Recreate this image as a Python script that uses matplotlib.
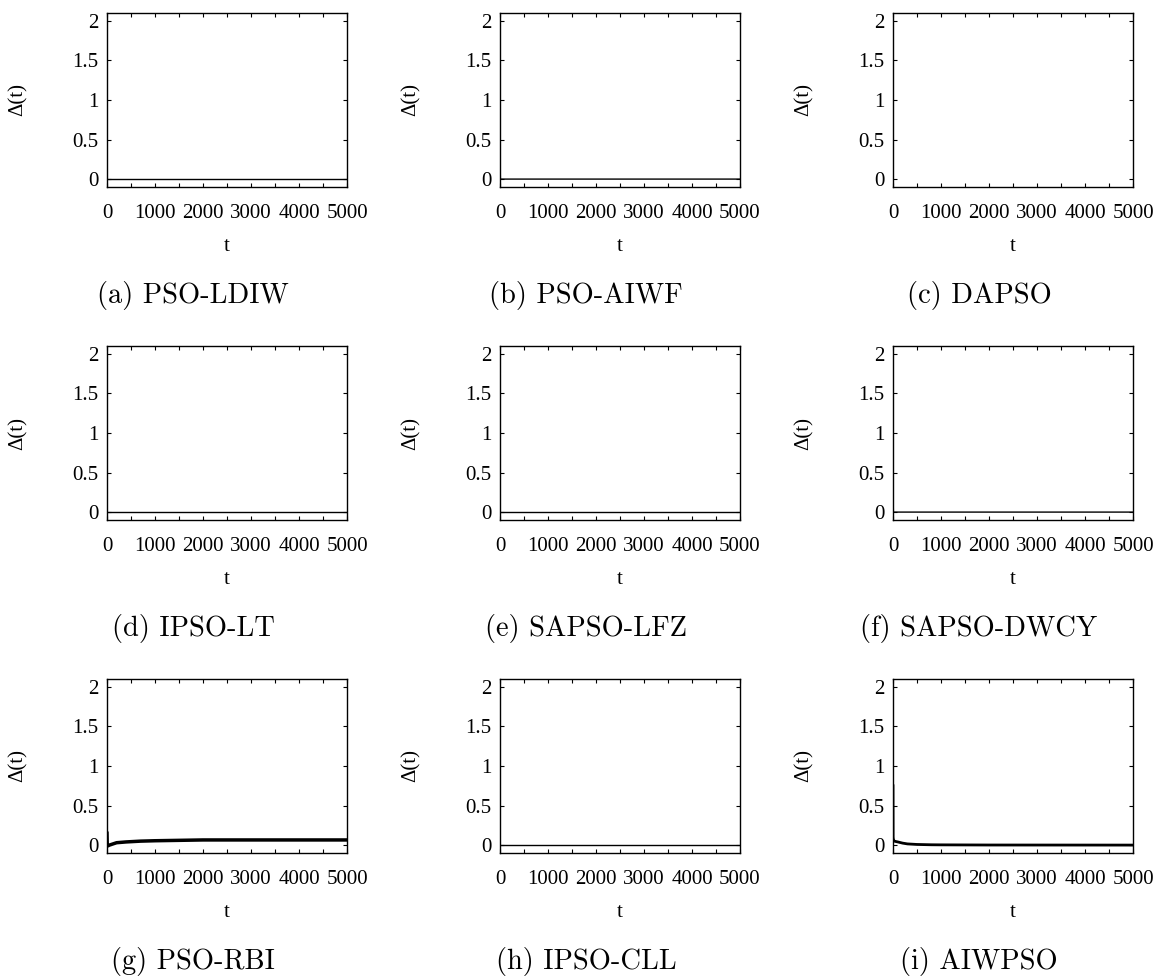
import matplotlib
matplotlib.use("Agg")
import matplotlib.pyplot as plt
from matplotlib.ticker import MultipleLocator

# Δ(t) traces for each variant (t, value) -- flat ones sit on zero
names = ["PSO-LDIW", "PSO-AIWF", "DAPSO",
         "IPSO-LT", "SAPSO-LFZ", "SAPSO-DWCY",
         "PSO-RBI", "IPSO-CLL", "AIWPSO"]
letters = ["a", "b", "c", "d", "e", "f", "g", "h", "i"]

t_ldiw = [0, 5000]
d_ldiw = [0.0, 0.0]
t_aiwf = [0, 8, 5000]
d_aiwf = [0.3, 0.0, 0.0]
t_dapso = []
d_dapso = []
t_ipso_lt = [0, 5000]
d_ipso_lt = [0.0, 0.0]
t_sapso_lfz = [0, 5000]
d_sapso_lfz = [0.0, 0.0]
t_sapso_dwcy = [0, 8, 5000]
d_sapso_dwcy = [0.25, 0.0, 0.0]
t_rbi = [0, 5, 20, 50, 100, 200, 400, 700, 1000, 1500, 2000, 3000, 4000, 5000]
d_rbi = [0.15, 0.0, -0.01, 0.0, 0.01, 0.03, 0.04, 0.05, 0.055, 0.06, 0.065, 0.065, 0.065, 0.065]
t_ipso_cll = [0, 5000]
d_ipso_cll = [0.0, 0.0]
t_aiwpso = [0, 2, 10, 30, 60, 100, 200, 300, 500, 800, 1000, 2000, 5000]
d_aiwpso = [0.75, 0.1, 0.06, 0.05, 0.045, 0.04, 0.025, 0.015, 0.008, 0.004, 0.003, 0.001, 0.0]

series = [(t_ldiw, d_ldiw), (t_aiwf, d_aiwf), (t_dapso, d_dapso),
          (t_ipso_lt, d_ipso_lt), (t_sapso_lfz, d_sapso_lfz), (t_sapso_dwcy, d_sapso_dwcy),
          (t_rbi, d_rbi), (t_ipso_cll, d_ipso_cll), (t_aiwpso, d_aiwpso)]
line_widths = [1.0, 1.0, 1.0, 1.0, 1.0, 1.0, 2.5, 1.0, 2.0]

yticks = [0, 0.5, 1, 1.5, 2]
yticklabels = ["0", "0.5", "1", "1.5", "2"]
xticks = [0, 1000, 2000, 3000, 4000, 5000]
xticklabels = ["0", "1000", "2000", "3000", "4000", "5000"]

W, H = 1166, 980
fig = plt.figure(figsize=(W / 100, H / 100), dpi=100)

col_left = [107, 500, 893]
row_top = [13, 346, 679]
ax_w, ax_h = 240, 174
tick_font = {"family": "Liberation Serif", "size": 15}

for i, (name, letter, (t, d), lw) in enumerate(zip(names, letters, series, line_widths)):
    r, c = divmod(i, 3)
    x0 = col_left[c]
    y0 = row_top[r] + ax_h
    ax = fig.add_axes([x0 / W, 1 - y0 / H, ax_w / W, ax_h / H])
    ax.plot(t, d, color="black", linewidth=lw)
    ax.set_xlim(0, 5000)
    ax.set_ylim(-0.1, 2.1)

    ax.set_xticks(xticks)
    ax.set_xticklabels(xticklabels, fontdict=tick_font)
    ax.set_yticks(yticks)
    ax.set_yticklabels(yticklabels, fontdict=tick_font)
    ax.xaxis.set_minor_locator(MultipleLocator(500))
    ax.tick_params(which="both", direction="in", top=True, right=True,
                   length=3, width=0.8)
    ax.tick_params(axis="x", pad=12)
    ax.tick_params(axis="y", pad=6)
    for sp in ax.spines.values():
        sp.set_linewidth(1.0)

    ax.set_ylabel("Δ(t)", family="Liberation Serif", fontsize=15)
    ax.yaxis.set_label_coords(-0.33, 0.5)
    ax.set_xlabel("t", family="Liberation Serif", fontsize=15)
    ax.xaxis.set_label_coords(0.5, -0.29)

    cx = x0 + ax_w / 2 - 34
    cy = row_top[r] + ax_h + 108
    fig.text(cx / W, 1 - cy / H, f"({letter}) {name}", family="cmr10",
             fontsize=20.5, ha="center", va="center")

fig.savefig("out.png", dpi=100)
